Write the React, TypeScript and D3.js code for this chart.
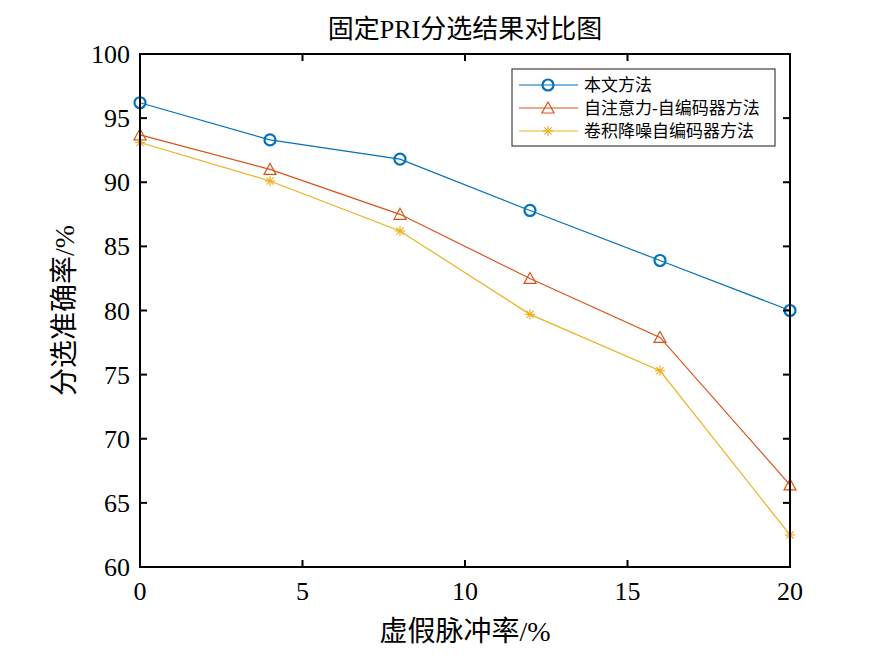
import React from 'react';
import * as d3 from 'd3';

const xs = [0, 4, 8, 12, 16, 20];
const ours = [96.2, 93.3, 91.8, 87.8, 83.9, 80.0];
const attnAE = [93.7, 91.0, 87.5, 82.5, 77.9, 66.4];
const convAE = [93.1, 90.1, 86.2, 79.7, 75.3, 62.5];
const names = ['本文方法', '自注意力-自编码器方法', '卷积降噪自编码器方法'];
const colors = ['#0072BD', '#D95319', '#EDB120'];
const xTicks = [0, 5, 10, 15, 20];
const yTicks = [60, 65, 70, 75, 80, 85, 90, 95, 100];

const W = 872, H = 656;
const L = 140, R = 790, T = 54, B = 567;
const font = '"Liberation Serif", "Noto Sans CJK SC", serif';

function Marker({ kind, x, y, c }) {
  if (kind === 0) return <circle cx={x} cy={y} r={5.5} fill="none" stroke={c} strokeWidth={2.2} />;
  if (kind === 1) return <path d={`M${x},${y - 6}L${x + 6},${y + 5}L${x - 6},${y + 5}Z`} fill="none" stroke={c} strokeWidth={1.2} />;
  const s = 5;
  return (
    <g stroke={c} strokeWidth={1.2}>
      <line x1={x - s} y1={y} x2={x + s} y2={y} />
      <line x1={x} y1={y - s} x2={x} y2={y + s} />
      <line x1={x - 3.6} y1={y - 3.6} x2={x + 3.6} y2={y + 3.6} />
      <line x1={x - 3.6} y1={y + 3.6} x2={x + 3.6} y2={y - 3.6} />
    </g>
  );
}

export default function App() {
  const x = d3.scaleLinear().domain([0, 20]).range([L, R]);
  const y = d3.scaleLinear().domain([60, 100]).range([B, T]);
  const series = [ours, attnAE, convAE];
  const line = d3.line<number>().x((_, i) => x(xs[i])).y(d => y(d));
  return (
    <svg width={W} height={H} style={{ position: 'absolute', left: 0, top: 0, background: '#fff' }} fontFamily={font}>
      <text x={(L + R) / 2} y={38} textAnchor="middle" fontSize={26}>固定PRI分选结果对比图</text>
      {series.map((s, k) => (
        <g key={k}>
          <path d={line(s)} fill="none" stroke={colors[k]} strokeWidth={1.2} />
          {s.map((v, i) => <Marker key={i} kind={k} x={x(xs[i])} y={y(v)} c={colors[k]} />)}
        </g>
      ))}
      <rect x={L} y={T} width={R - L} height={B - T} fill="none" stroke="#000" strokeWidth={2} />
      {xTicks.map(t => (
        <g key={t}>
          <line x1={x(t)} x2={x(t)} y1={B} y2={B - 7} stroke="#000" strokeWidth={2} />
          <line x1={x(t)} x2={x(t)} y1={T} y2={T + 7} stroke="#000" strokeWidth={2} />
          <text x={x(t)} y={B + 33} textAnchor="middle" fontSize={26}>{t}</text>
        </g>
      ))}
      {yTicks.map(t => (
        <g key={t}>
          <line x1={L} x2={L + 7} y1={y(t)} y2={y(t)} stroke="#000" strokeWidth={2} />
          <line x1={R} x2={R - 7} y1={y(t)} y2={y(t)} stroke="#000" strokeWidth={2} />
          <text x={L - 10} y={y(t) + 9} textAnchor="end" fontSize={26}>{t}</text>
        </g>
      ))}
      <text x={(L + R) / 2} y={641} textAnchor="middle" fontSize={28}>虚假脉冲率/%</text>
      <text transform={`translate(74,${(T + B) / 2}) rotate(-90)`} textAnchor="middle" fontSize={28}>分选准确率/%</text>
      <g>
        <rect x={512} y={69} width={263} height={77} fill="#fff" stroke="#4a3f35" strokeWidth={1.2} />
        {names.map((n, k) => {
          const yy = 85 + k * 23;
          return (
            <g key={k}>
              <line x1={519} x2={578} y1={yy} y2={yy} stroke={colors[k]} strokeWidth={1.2} />
              <Marker kind={k} x={548} y={yy} c={colors[k]} />
              <text x={584} y={yy + 6} fontSize={17}>{n}</text>
            </g>
          );
        })}
      </g>
    </svg>
  );
}
